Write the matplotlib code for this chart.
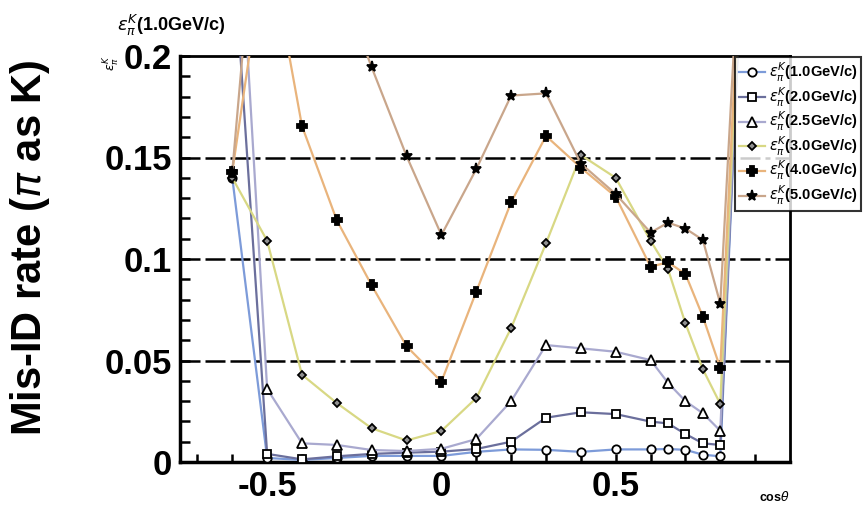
import matplotlib.pyplot as plt

plt.rcParams['font.family'] = ['Liberation Sans', 'DejaVu Sans']
plt.rcParams['mathtext.fontset'] = 'dejavusans'

# cos(theta) bins
cos_theta = [-0.6, -0.5, -0.4, -0.3, -0.2, -0.1, 0.0, 0.1, 0.2, 0.3, 0.4,
             0.5, 0.6, 0.65, 0.7, 0.75, 0.8, 0.9]

# mis-ID rate per momentum
rate_1p0 = [0.14, 0.002, 0.001, 0.002, 0.003, 0.003, 0.003, 0.005, 0.0062, 0.006,
            0.005, 0.0062, 0.0062, 0.0064, 0.006, 0.0036, 0.0028, 0.40]
rate_2p0 = [0.26, 0.004, 0.0013, 0.0028, 0.004, 0.0046, 0.0051, 0.0064, 0.010, 0.0218,
            0.0245, 0.0236, 0.0199, 0.019, 0.0138, 0.0092, 0.0084, 0.40]
rate_2p5 = [0.33, 0.036, 0.0092, 0.0084, 0.0059, 0.0054, 0.0065, 0.0113, 0.030, 0.0576,
            0.056, 0.0543, 0.0502, 0.039, 0.030, 0.024, 0.0154, 0.40]
rate_3p0 = [0.14, 0.109, 0.043, 0.029, 0.0166, 0.0106, 0.0153, 0.0315, 0.066, 0.1077,
            0.1512, 0.140, 0.109, 0.095, 0.0683, 0.0457, 0.0286, 0.40]
rate_4p0 = [0.143, 0.26, 0.1655, 0.119, 0.087, 0.057, 0.0396, 0.0839, 0.128, 0.1606,
            0.145, 0.1307, 0.0962, 0.0984, 0.0926, 0.0716, 0.0463, 0.40]
rate_5p0 = [0.143, 0.34, 0.30, 0.24, 0.1944, 0.1507, 0.1118, 0.1443, 0.1805, 0.1816,
            0.147, 0.132, 0.113, 0.1179, 0.115, 0.1094, 0.078, 0.40]

labels = ['1.0', '2.0', '2.5', '3.0', '4.0', '5.0']
series = [rate_1p0, rate_2p0, rate_2p5, rate_3p0, rate_4p0, rate_5p0]
colors = ['#7d9bd9', '#6b6f9c', '#a9a9cf', '#d8d884', '#e9b47c', '#c9a68b']
markers = ['o', 's', '^', 'D', 'P', '*']
msizes = [6, 6, 6.5, 4, 7.5, 8]
mfaces = ['white', 'white', 'white', '#909090', 'black', 'black']

fig = plt.figure(figsize=(8.65, 5.08), dpi=100)
ax = fig.add_axes([180 / 865, 46 / 508, 610 / 865, 406 / 508])

for y, lab, c, m, ms, mf in zip(series, labels, colors, markers, msizes, mfaces):
    ax.plot(cos_theta, y, color=c, lw=1.6, marker=m, ms=ms, mfc=mf, mec='black',
            mew=1.3, label=r'$\epsilon_\pi^K$(' + lab + 'GeV/c)', zorder=3)

for g in [0.05, 0.1, 0.15]:
    ax.axhline(g, color='black', lw=1.8, ls=(0, (8, 2, 8, 2, 8, 2, 2, 2)), zorder=2)

ax.set_xlim(-0.75, 1.0)
ax.set_ylim(0, 0.2)
ax.set_xticks([-0.5, 0, 0.5])
ax.set_xticklabels(['-0.5', '0', '0.5'])
ax.set_xticks([-0.7, -0.6, -0.4, -0.3, -0.2, -0.1, 0.1, 0.2, 0.3, 0.4, 0.6, 0.7, 0.8, 0.9], minor=True)
ax.set_yticks([0, 0.05, 0.1, 0.15, 0.2])
ax.set_yticklabels(['0', '0.05', '0.1', '0.15', '0.2'])
ax.set_yticks([i / 100 for i in range(21)], minor=True)
ax.tick_params(axis='both', which='both', direction='in', width=1.8, labelsize=25)
ax.tick_params(axis='y', which='both', length=7.5, pad=6)
ax.tick_params(axis='x', which='both', length=5.5, pad=6)
for t in ax.get_xticklabels() + ax.get_yticklabels():
    t.set_fontweight('bold')
for s in ax.spines.values():
    s.set_linewidth(2)
ax.spines['left'].set_linewidth(2.5)
ax.spines['bottom'].set_linewidth(2.5)

leg = ax.legend(loc='upper left', bbox_to_anchor=(735 / 865, 1 - 57 / 508),
                bbox_transform=fig.transFigure, frameon=True, fancybox=False,
                prop={'size': 10.5, 'weight': 'bold'}, handlelength=1.8,
                handletextpad=0.25, borderpad=0.25, labelspacing=0.1, borderaxespad=0)
leg.get_frame().set_edgecolor('black')
leg.get_frame().set_linewidth(1.5)
leg.set_zorder(10)

fig.text(117 / 865, 1 - 25 / 508, r'$\epsilon_\pi^K$(1.0GeV/c)', fontsize=13,
         fontweight='bold', va='center', ha='left')
fig.text(112 / 865, 1 - 63 / 508, r'$\epsilon_\pi^K$', fontsize=9, rotation=90,
         va='center', ha='center')
fig.text(790 / 865, 1 - 497 / 508, r'cos$\theta$', fontsize=9, fontweight='bold',
         va='center', ha='right')
fig.text(30 / 865, 260 / 508, r'Mis-ID rate ($\pi$ as K)', fontsize=30,
         fontweight='bold', rotation=90, va='center', ha='center')

fig.savefig('out.png', dpi=100)
